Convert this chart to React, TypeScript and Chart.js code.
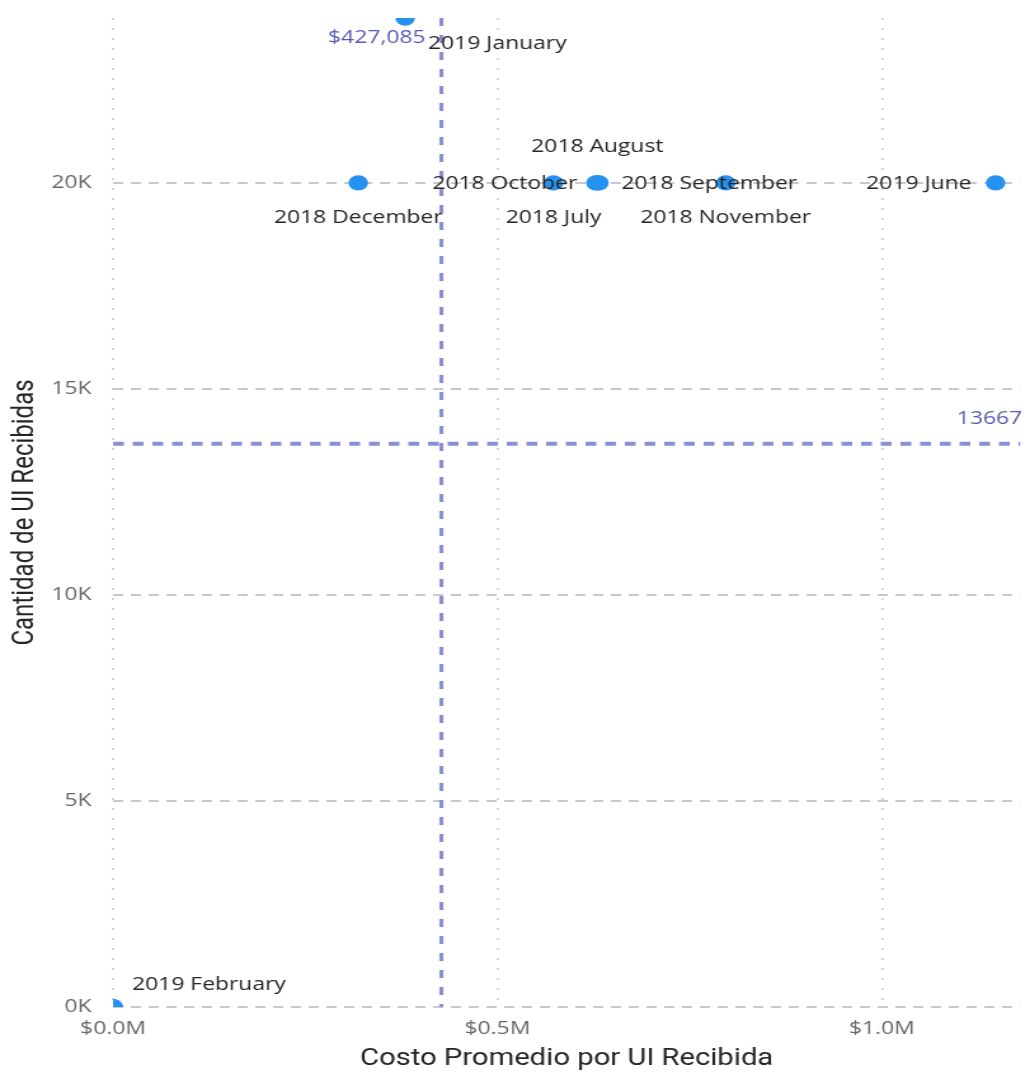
import { useEffect, useRef } from 'react';
import { Chart, registerables } from 'chart.js';

Chart.register(...registerables);

// ---- data ----
const months = [
  '2018 July', '2018 August', '2018 September', '2018 October', '2018 November', '2018 December',
  '2019 January', '2019 February', '2019 March', '2019 April', '2019 May', '2019 June',
];
const costs = [573000, 630000, 628000, 632000, 797000, 319000, 380000, 0, 0, 0, 0, 1148000];
const quantities = [20000, 20000, 20000, 20000, 20000, 20000, 24000, 0, 0, 0, 0, 20000];
const avgCost = 427085;
const avgQty = 13667;
const avgCostLabel = '$427,085';
const avgQtyLabel = '13667';
const xTicks = [0, 500000, 1000000];
const yTicks = [0, 5000, 10000, 15000, 20000];
const xTitle = 'Costo Promedio por UI Recibida';
const yTitle = 'Cantidad de UI Recibidas';

// ---- layout / style ----
const PAGE_W = 1030;
const PAGE_H = 1073;
const CANVAS_W = 811; // drawn narrower, then stretched horizontally like the reference
const STRETCH = PAGE_W / CANVAS_W;

const placement: Record<string, { align: CanvasTextAlign; dx: number; dy: number } | null> = {
  '2018 July': { align: 'center', dx: 0, dy: 35 },
  '2018 August': { align: 'center', dx: 0, dy: -36 },
  '2018 September': { align: 'left', dx: 20, dy: 1 },
  '2018 October': { align: 'right', dx: -17, dy: 1 },
  '2018 November': { align: 'center', dx: 0, dy: 35 },
  '2018 December': { align: 'center', dx: 0, dy: 35 },
  '2019 January': { align: 'left', dx: 18, dy: 26 },
  '2019 February': { align: 'left', dx: 15, dy: -22 },
  '2019 March': null,
  '2019 April': null,
  '2019 May': null,
  '2019 June': { align: 'right', dx: -19, dy: 1 },
};

const AVG_COLOR = '#8a8ed2';
const AVG_TEXT = '#5a5ab4';
const LABEL_FONT = '18px "Open Sans"';
const TICK_FONT = { family: 'Open Sans', size: 18 };

const overlayPlugin = {
  id: 'overlay',
  beforeDatasetsDraw(chart: any) {
    const { ctx, chartArea, scales } = chart;
    const x = scales.x.getPixelForValue(avgCost);
    const y = scales.y.getPixelForValue(avgQty);
    ctx.save();
    ctx.strokeStyle = AVG_COLOR;
    ctx.lineWidth = 3.2;
    ctx.setLineDash([8, 9]);
    ctx.beginPath();
    ctx.moveTo(x, chartArea.top);
    ctx.lineTo(x, chartArea.bottom);
    ctx.stroke();
    ctx.lineWidth = 4;
    ctx.setLineDash([8.5, 7]);
    ctx.beginPath();
    ctx.moveTo(chartArea.left, y);
    ctx.lineTo(chartArea.right, y);
    ctx.stroke();
    ctx.restore();
  },
  afterDatasetsDraw(chart: any) {
    const { ctx, chartArea, scales } = chart;
    const ax = scales.x.getPixelForValue(avgCost);
    const ay = scales.y.getPixelForValue(avgQty);
    ctx.save();
    ctx.font = LABEL_FONT;
    ctx.textBaseline = 'middle';
    ctx.fillStyle = AVG_TEXT;
    ctx.textAlign = 'right';
    ctx.fillText(avgCostLabel, ax - 12.5, chartArea.top + 20);
    ctx.fillText(avgQtyLabel, chartArea.right + 1.5, ay - 25);
    ctx.fillStyle = '#252423';
    const meta = chart.getDatasetMeta(0);
    meta.data.forEach((pt: any, i: number) => {
      const p = placement[months[i]];
      if (!p) return;
      ctx.textAlign = p.align;
      ctx.fillText(months[i], pt.x + p.dx, pt.y + p.dy);
    });
    ctx.restore();
  },
};

export default function App() {
  const ref = useRef<HTMLCanvasElement | null>(null);
  useEffect(() => {
    document.body.style.margin = '0';
    const canvas = ref.current;
    if (!canvas) return;
    const chart = new Chart(canvas, {
      type: 'scatter',
      data: {
        datasets: [
          {
            data: costs.map((c, i) => ({ x: c, y: quantities[i] })),
            backgroundColor: '#2592f2',
            borderColor: '#2592f2',
            borderWidth: 0,
            pointRadius: 7.7,
            pointHoverRadius: 7.7,
            clip: 0,
          },
        ],
      },
      options: {
        animation: false,
        responsive: false,
        maintainAspectRatio: false,
        devicePixelRatio: 1,
        layout: { padding: { top: 0, right: 6, left: 0, bottom: 0 } },
        plugins: { legend: { display: false }, tooltip: { enabled: false } },
        scales: {
          x: {
            type: 'linear',
            min: 0,
            max: 1180000,
            afterBuildTicks: (s: any) => {
              s.ticks = xTicks.map((v) => ({ value: v }));
            },
            afterFit: (s: any) => {
              s.height = 66;
              s.paddingLeft = 0;
              s.paddingRight = 0;
            },
            ticks: {
              callback: (v: any) => '$' + (Number(v) / 1e6).toFixed(1) + 'M',
              color: '#666666',
              font: TICK_FONT,
              padding: 11,
              maxRotation: 0,
              autoSkip: false,
            },
            grid: { color: '#cccccc', lineWidth: 1.6, drawTicks: false },
            border: { display: false, dash: [2, 8] },
            title: {
              display: true,
              text: xTitle,
              color: '#252423',
              font: { family: 'Roboto', size: 23 },
              padding: { top: 0, bottom: 0 },
            },
          },
          y: {
            type: 'linear',
            min: 0,
            max: 24000,
            afterBuildTicks: (s: any) => {
              s.ticks = yTicks.map((v) => ({ value: v }));
            },
            afterFit: (s: any) => {
              s.width = 89;
              s.paddingTop = 18;
              s.paddingBottom = 0;
            },
            ticks: {
              callback: (v: any) => Number(v) / 1000 + 'K',
              color: '#666666',
              font: TICK_FONT,
              padding: 17,
              autoSkip: false,
            },
            grid: { color: '#c8c8c8', lineWidth: 2, drawTicks: false },
            border: { display: false, dash: [8, 6] },
            title: {
              display: true,
              text: yTitle,
              color: '#252423',
              font: { family: 'Roboto', size: 24 },
              padding: { top: 6, bottom: 0 },
            },
          },
        },
      },
      plugins: [overlayPlugin],
    });
    return () => chart.destroy();
  }, []);
  return (
    <div
      style={{
        width: CANVAS_W,
        height: PAGE_H,
        transform: `scaleX(${STRETCH})`,
        transformOrigin: '0 0',
      }}
    >
      <canvas ref={ref} width={CANVAS_W} height={PAGE_H} style={{ display: 'block' }} />
    </div>
  );
}
